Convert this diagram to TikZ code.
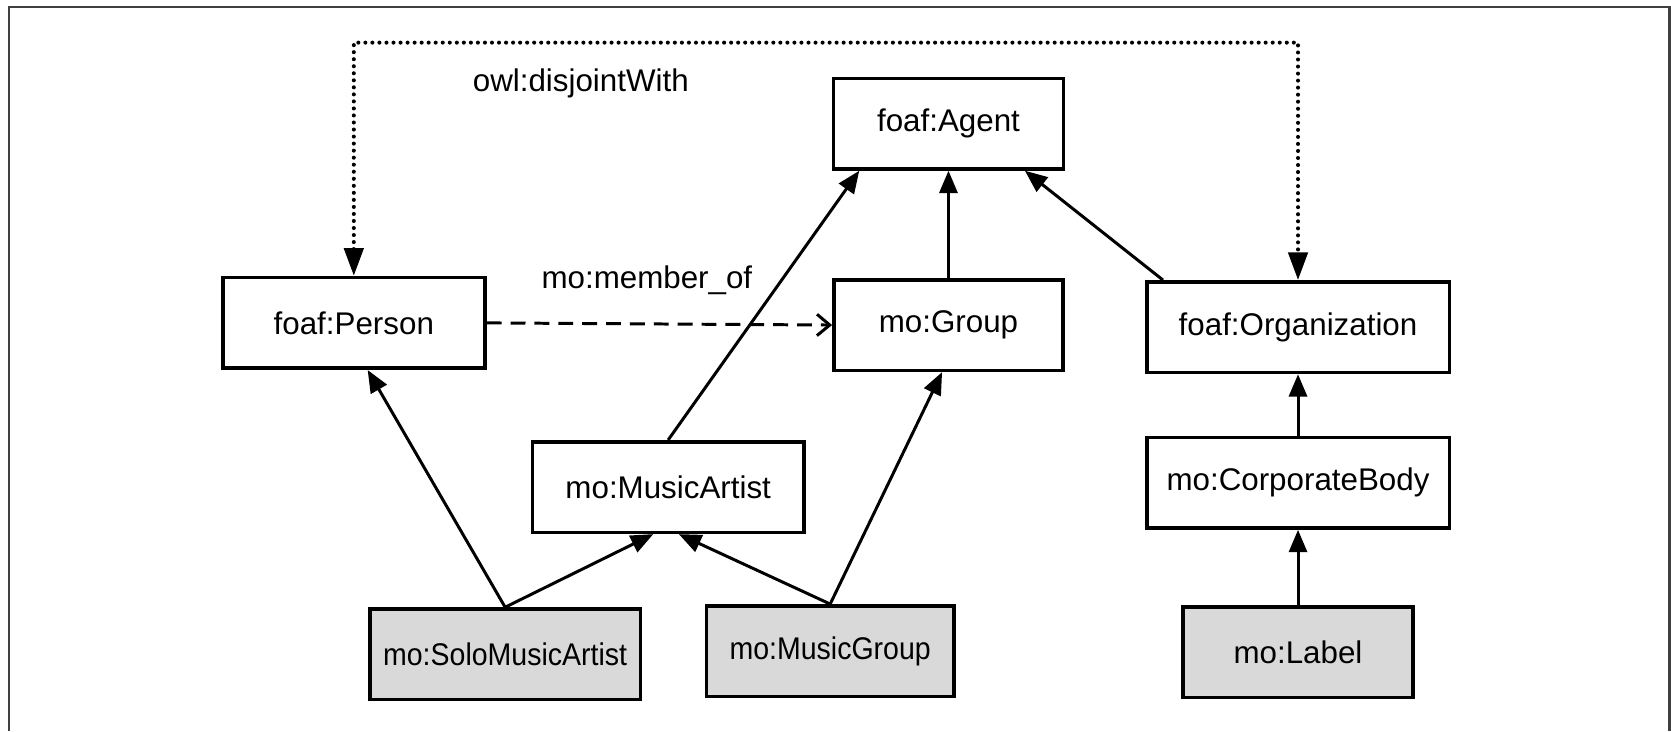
\documentclass[tikz,border=0pt]{standalone}
\usepackage{fontspec}
\setmainfont{Liberation Sans}
\newfontfamily\narrowsans{Liberation Sans}[FakeStretch=0.91]
\usetikzlibrary{calc,arrows.meta}
\definecolor{frame}{HTML}{404040}
\definecolor{leaf}{HTML}{D9D9D9}
\tikzset{
  cls/.style={draw=black, line width=1.7pt, inner sep=0pt, minimum height=42.5pt,
    font=\fontsize{14.7pt}{17pt}\selectfont},
  leafcls/.style={cls, fill=leaf},
  isa/.style={draw=black, line width=1.4pt, -{Triangle[length=10.5pt,width=8.5pt]}},
  rel/.style={draw=black, line width=1.4pt, dash pattern=on 7pt off 4.2pt,
    -{Straight Barb[length=6pt,width=10pt,line width=1.4pt]}},
  disj/.style={draw=black, line width=1.9pt, dash pattern=on 0pt off 3.3pt, line cap=round,
    {Triangle[length=13pt,width=9pt]}-{Triangle[length=13pt,width=9pt]}},
  lab/.style={font=\fontsize{14.7pt}{17pt}\selectfont},
}

\begin{document}
\begin{tikzpicture}[x=0.5pt, y=-0.5pt]
  \useasboundingbox (0,0) rectangle (1568,686);
  % frame, open at the bottom
  \draw[frame, line width=1.1pt] (8.5,686) -- (8.5,6.5) -- (1566.5,6.5) -- (1566.5,686);

  % classes
  \node[cls, minimum width=108pt]   (agent)  at (890,116) {foaf:Agent};
  \node[cls, minimum width=123pt]   (person) at (332,303) {foaf:Person};
  \node[cls, minimum width=107.5pt] (group)  at (890,305) {mo:Group};
  \node[cls, minimum width=142pt]   (org)    at (1218,307) {foaf:Organization};
  \node[cls, minimum width=127.5pt] (artist) at (627,457) {mo:MusicArtist};
  \node[cls, minimum width=142pt]   (corp)   at (1218,453) {mo:CorporateBody};
  \node[leafcls, minimum width=127pt] (solo)   at (474,614) {\narrowsans mo:SoloMusicArtist};
  \node[leafcls, minimum width=116pt] (mgroup) at (779,611) {\narrowsans mo:MusicGroup};
  \node[leafcls, minimum width=108pt] (label)  at (1218,612) {mo:Label};

  % subclass links
  \draw[isa] (artist.north) -- ($(agent.south west)+(26,0)$);
  \draw[isa] (group.north) -- (agent.south);
  \draw[isa] ($(org.north west)+(17,0)$) -- ($(agent.south east)+(-38,0)$);
  \draw[isa] (solo.north) -- ($(person.south)+(13,0)$);
  \draw[isa] (solo.north) -- ($(artist.south)+(-14,0)$);
  \draw[isa] (mgroup.north) -- ($(artist.south)+(10,0)$);
  \draw[isa] (mgroup.north) -- ($(group.south)+(-6,0)$);
  \draw[isa] (corp.north) -- (org.south);
  \draw[isa] (label.north) -- (corp.south);

  % properties
  \draw[rel] (person.east) -- (group.west);
  \node[lab] (memberof) at (607,263) {mo:member\_of};
  \coordinate (top) at (0,40);
  \draw[disj] (person.north) -- (person.north |- top) -| (org.north);
  \node[lab] (disjoint) at (545,78) {owl:disjointWith};
\end{tikzpicture}
\end{document}
